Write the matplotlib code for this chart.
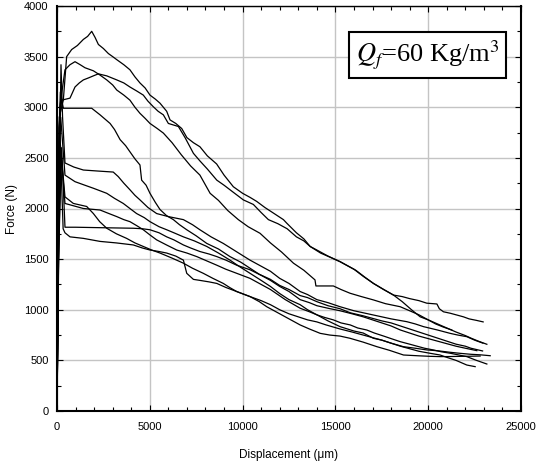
import matplotlib
matplotlib.use("Agg")
import matplotlib.pyplot as plt
from matplotlib.ticker import MultipleLocator

# ---- data (displacement in um, force in N) ----
u1_x = [0, 60, 120, 340, 520, 790, 1100, 1420, 1650, 1870, 2050, 2230, 2500, 2770, 3000, 3220, 3600, 3930, 4200, 4470, 4750, 5010, 5300, 5550, 5910, 6090, 6400, 6720, 7000, 7350, 7700, 8100, 8600, 9000, 9500, 10000, 10400, 10760, 11200, 11700, 12200, 12380, 12900, 13300, 13640, 14000, 14600, 15250, 15600, 16000, 16500, 17050, 17600, 18130, 18600, 19000, 19500, 19920, 20470, 20600, 20820, 21200, 21500, 21900, 22200, 22600, 22960]
u1_y = [0, 1500, 2900, 3070, 3500, 3570, 3610, 3670, 3700, 3750, 3690, 3620, 3580, 3530, 3500, 3470, 3420, 3370, 3300, 3240, 3190, 3120, 3080, 3040, 2960, 2875, 2840, 2790, 2700, 2650, 2610, 2520, 2440, 2330, 2215, 2150, 2110, 2070, 2010, 1950, 1890, 1855, 1760, 1700, 1625, 1590, 1530, 1475, 1440, 1400, 1330, 1260, 1200, 1145, 1130, 1110, 1090, 1065, 1057, 1010, 980, 965, 950, 930, 910, 895, 880]

u3_x = [0, 50, 100, 250, 700, 970, 1200, 1420, 1700, 1960, 2230, 2450, 2680, 2950, 3220, 3600, 3930, 4300, 4650, 4900, 5190, 5450, 5730, 6000, 6540, 6900, 7350, 7700, 8100, 8610, 9000, 9500, 10040, 10580, 11000, 11390, 11900, 12400, 12900, 13300, 13640, 14200, 14700, 15250, 15700, 16100, 16600, 17050, 17600, 18130, 18600, 19100, 19570, 20000, 20400, 20800, 21270]
u3_y = [0, 1500, 2800, 3070, 3090, 3200, 3240, 3270, 3290, 3310, 3330, 3320, 3310, 3290, 3270, 3240, 3200, 3160, 3120, 3060, 3005, 2960, 2925, 2840, 2810, 2700, 2545, 2470, 2390, 2280, 2230, 2160, 2085, 2040, 1960, 1890, 1850, 1800, 1720, 1680, 1625, 1560, 1520, 1475, 1430, 1390, 1320, 1260, 1200, 1145, 1080, 1000, 930, 900, 860, 830, 800]

u2_x = [0, 80, 150, 430, 700, 970, 1250, 1510, 1960, 2300, 2680, 3000, 3220, 3600, 3930, 4200, 4470, 4750, 5010, 5400, 5730, 6200, 6700, 7200, 7700, 8250, 8700, 9200, 9770, 10300, 10940, 11500, 12100, 12740, 13300, 13900, 13950, 14890, 15300, 15790, 16400, 17050, 17700, 18490, 19000, 19500, 20000, 20500, 21000, 21500, 22000, 22300, 22700, 23160]
u2_y = [0, 2000, 3000, 3370, 3420, 3450, 3420, 3390, 3360, 3320, 3270, 3220, 3170, 3120, 3070, 3000, 2940, 2890, 2840, 2790, 2745, 2650, 2530, 2420, 2330, 2150, 2080, 1980, 1890, 1820, 1755, 1660, 1570, 1460, 1390, 1295, 1235, 1235, 1200, 1163, 1130, 1097, 1060, 1030, 990, 950, 900, 860, 820, 780, 745, 720, 690, 659]

m1_x = [0, 100, 180, 340, 790, 1870, 2320, 2860, 3100, 3400, 3700, 3930, 4200, 4470, 4560, 4800, 5010, 5300, 5550, 5900, 6270, 6600, 6990, 7500, 8070, 8700, 9320, 9900, 10400, 10900, 11500, 12000, 12500, 13100, 13500, 14000, 14600, 15250, 15800, 16500, 17000, 17500, 18000, 18500, 19000, 19500, 20000, 20500, 21000, 21500, 22000, 22300, 22930]
m1_y = [0, 2500, 3150, 2990, 2990, 2990, 2925, 2840, 2780, 2680, 2620, 2560, 2490, 2430, 2280, 2230, 2150, 2060, 1990, 1930, 1890, 1840, 1790, 1730, 1655, 1600, 1525, 1470, 1410, 1350, 1300, 1240, 1200, 1140, 1120, 1080, 1040, 1010, 970, 940, 915, 890, 870, 840, 810, 780, 750, 720, 690, 660, 640, 620, 593]

l1_x = [0, 100, 215, 300, 430, 900, 1420, 2200, 3030, 3300, 3600, 3930, 4200, 4470, 4900, 5370, 6000, 6810, 7300, 7700, 8300, 8960, 9700, 10400, 10900, 11500, 12000, 12500, 13100, 13500, 14000, 14600, 15250, 16000, 16500, 17050, 17500, 18000, 18850, 19300, 19750, 20500, 21180, 21600, 22080, 22500, 22950]
l1_y = [0, 2000, 3420, 2900, 2450, 2410, 2380, 2370, 2360, 2315, 2250, 2185, 2130, 2085, 2010, 1950, 1920, 1890, 1840, 1790, 1720, 1655, 1570, 1490, 1440, 1380, 1310, 1260, 1180, 1150, 1100, 1070, 1030, 990, 970, 948, 930, 910, 882, 860, 833, 800, 767, 750, 734, 700, 670]

l5_x = [0, 80, 250, 430, 1000, 2500, 4110, 4600, 5010, 5500, 5910, 6300, 6810, 7200, 7700, 8200, 8610, 9100, 9680, 10400, 11000, 11500, 12000, 12500, 13100, 13600, 14000, 14600, 15250, 15900, 16500, 17000, 17500, 18000, 18500, 19000, 19500, 20000, 20500, 21000, 21500, 22000, 22620]
l5_y = [0, 1500, 2600, 1815, 1815, 1810, 1805, 1800, 1790, 1760, 1720, 1690, 1640, 1610, 1575, 1550, 1525, 1490, 1440, 1395, 1340, 1290, 1230, 1180, 1100, 1070, 1040, 1015, 990, 960, 930, 900, 870, 840, 800, 770, 740, 715, 690, 665, 640, 620, 596]

l2_x = [0, 100, 200, 430, 970, 1500, 1960, 2680, 3100, 3570, 4000, 4290, 4700, 5010, 5500, 5910, 6300, 6810, 7400, 8070, 8700, 9320, 9800, 10400, 11000, 11500, 12000, 12500, 13100, 13500, 14000, 14600, 15250, 16000, 16500, 17050, 17500, 18000, 18670, 19300, 19930, 20500, 21180, 21700, 22300, 22800, 23340]
l2_y = [0, 2200, 2900, 2330, 2265, 2230, 2200, 2150, 2100, 2050, 1990, 1950, 1910, 1870, 1820, 1790, 1760, 1720, 1680, 1625, 1560, 1490, 1430, 1360, 1290, 1230, 1160, 1100, 1050, 1000, 950, 890, 833, 790, 770, 718, 700, 670, 635, 620, 603, 595, 580, 570, 560, 555, 546]

l4_x = [0, 120, 200, 430, 1420, 2320, 2800, 3220, 3600, 3930, 4300, 4650, 5000, 5370, 5900, 6450, 7000, 7530, 8100, 8610, 9100, 9680, 10400, 11000, 11500, 12300, 13100, 13600, 14000, 14400, 14890, 15300, 15800, 16200, 16690, 17100, 17600, 18000, 18490, 19000, 19400, 19800, 20280, 20700, 21200, 21600, 22080, 22600, 23160]
l4_y = [0, 2000, 2600, 2050, 2000, 1985, 1950, 1920, 1890, 1870, 1830, 1790, 1740, 1690, 1640, 1590, 1560, 1525, 1480, 1440, 1400, 1360, 1310, 1250, 1200, 1100, 1015, 980, 950, 925, 900, 870, 850, 820, 800, 770, 740, 715, 685, 660, 640, 620, 603, 585, 570, 555, 537, 500, 464]

l3_x = [0, 100, 150, 430, 880, 1600, 1960, 2300, 2680, 3200, 3750, 4200, 4650, 5100, 5550, 6200, 6810, 7300, 7880, 8400, 8960, 9300, 9680, 10400, 10900, 11300, 11700, 12200, 12700, 13100, 13600, 14180, 14700, 15250, 15790, 16500, 17240, 17900, 18670, 19500, 20100, 20640, 21200, 21800, 22300, 22800]
l3_y = [0, 1800, 2700, 2115, 2050, 2020, 1950, 1870, 1805, 1750, 1705, 1660, 1625, 1590, 1560, 1510, 1460, 1410, 1360, 1310, 1260, 1220, 1180, 1130, 1080, 1030, 990, 940, 890, 850, 810, 767, 750, 740, 718, 680, 635, 600, 553, 545, 540, 537, 538, 540, 541, 543]

l6_x = [0, 80, 200, 330, 430, 700, 1420, 2320, 3200, 4110, 4600, 5010, 5500, 5910, 6400, 6810, 6990, 7350, 7700, 8200, 8610, 9100, 9680, 10400, 11000, 11500, 12000, 12500, 13000, 13500, 14000, 14500, 15250, 15900, 16500, 17000, 17500, 18000, 18500, 19000, 19500, 20100, 20640, 21000, 21500, 22080, 22530]
l6_y = [0, 1500, 2500, 1800, 1760, 1720, 1705, 1675, 1660, 1640, 1610, 1590, 1575, 1560, 1530, 1490, 1360, 1300, 1290, 1275, 1260, 1220, 1180, 1130, 1090, 1050, 1000, 960, 930, 900, 880, 850, 810, 780, 750, 725, 700, 670, 640, 615, 590, 570, 553, 530, 500, 454, 438]

curves = [(u1_x, u1_y), (u3_x, u3_y), (u2_x, u2_y), (m1_x, m1_y), (l1_x, l1_y),
          (l5_x, l5_y), (l2_x, l2_y), (l4_x, l4_y), (l3_x, l3_y), (l6_x, l6_y)]

x_ticks = [0, 5000, 10000, 15000, 20000, 25000]
y_ticks = [0, 500, 1000, 1500, 2000, 2500, 3000, 3500, 4000]
x_label = "Displacement (\u03bcm)"
y_label = "Force (N)"

plt.rcParams['font.family'] = ['Liberation Sans', 'DejaVu Sans']
plt.rcParams['mathtext.fontset'] = 'stix'

fig = plt.figure(figsize=(5.47, 4.68), dpi=100)
ax = fig.add_axes([57/547, (468-411)/468, 464/547, 405/468])

for xs, ys in curves:
    ax.plot(xs, ys, color='black', lw=0.9)

ax.set_xlim(0, 25000)
ax.set_ylim(0, 4000)
ax.set_xticks(x_ticks)
ax.set_yticks(y_ticks)
ax.xaxis.set_minor_locator(MultipleLocator(1000))
ax.yaxis.set_minor_locator(MultipleLocator(250))
ax.grid(True, which='major', color='#c4c4c4', lw=1.0)
ax.set_axisbelow(True)
ax.tick_params(which='both', direction='in', top=True, right=True, labelsize=8, color='black')
ax.tick_params(which='major', length=4, width=0.8)
ax.tick_params(which='minor', length=3, width=0.8)
ax.tick_params(axis='x', pad=8)
ax.tick_params(axis='y', pad=6)
for s in ['left', 'bottom', 'right']:
    ax.spines[s].set_linewidth(1.5)
ax.spines['top'].set_linewidth(1.0)

ax.set_xlabel(x_label, fontsize=8.5, labelpad=12)
ax.set_ylabel(y_label, fontsize=8.5, labelpad=4)

ax.text(0.7985, 0.879, r'$Q_f$=60 Kg/m$^3$', transform=ax.transAxes, ha='center', va='center',
        fontsize=19, family='Liberation Serif',
        bbox=dict(boxstyle='square,pad=0.25', facecolor='white', edgecolor='black', lw=1.5))

fig.savefig('out.png', dpi=100)
